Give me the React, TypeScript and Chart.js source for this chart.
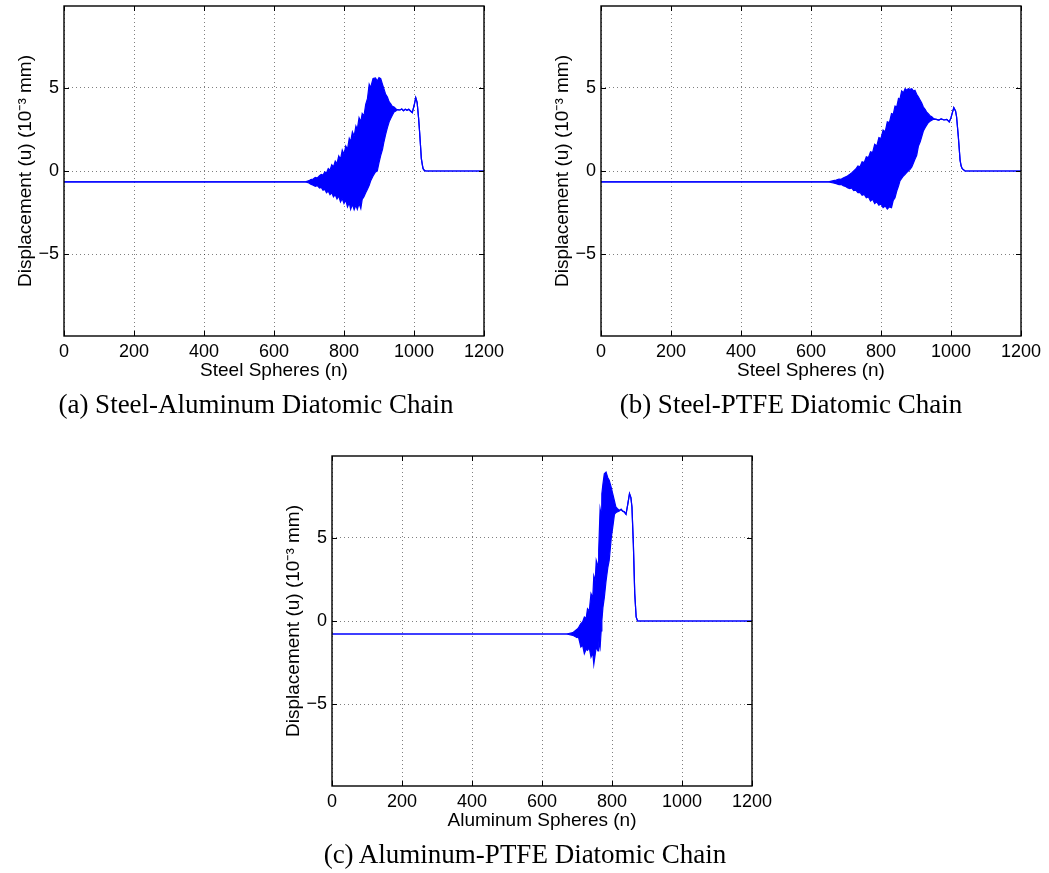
import React, { useEffect, useRef } from 'react';
import { Chart, registerables } from 'chart.js';

Chart.register(...registerables);

// ---- tick labels ----
const xTicks = [0, 200, 400, 600, 800, 1000, 1200];
const yTicks = [-5, 0, 5];
const yLimit = 9.9;

// ---- (a) Steel-Aluminum: sphere index, upper and lower envelope of displacement (10^-3 mm) ----
const nA = [0, 690, 700, 705, 712, 718, 724, 730, 735, 740, 745, 750, 755, 760, 765, 770, 775, 780, 785, 790, 795, 800, 805, 810, 815, 819, 824, 829, 834, 838, 843, 848, 852, 857, 862, 867, 872, 876, 883, 890, 895, 900, 905, 910, 914, 919, 924, 929, 933, 938, 943, 948, 952, 960, 965, 970, 975, 980, 985, 990, 995, 1000, 1005, 1009, 1013, 1016, 1019, 1021, 1024, 1026, 1030, 1035, 1200];
const upperA = [-0.65, -0.65, -0.58, -0.52, -0.48, -0.38, -0.42, -0.28, -0.2, -0.25, -0.05, -0.12, 0.15, 0.05, 0.38, 0.25, 0.6, 0.45, 0.9, 0.7, 1.25, 1.0, 1.5, 1.3, 1.95, 1.75, 2.35, 2.1, 2.7, 2.5, 3.2, 2.95, 3.45, 3.3, 4.0, 4.34, 5.2, 5.0, 5.55, 5.58, 5.4, 5.6, 5.54, 5.2, 4.94, 4.6, 4.44, 4.15, 4.04, 3.88, 3.84, 3.74, 3.68, 3.66, 3.72, 3.62, 3.7, 3.64, 3.7, 3.6, 3.5, 3.9, 4.4, 4.1, 3.2, 2.34, 1.4, 0.74, 0.35, 0.14, 0.02, 0, 0];
const lowerA = [-0.65, -0.65, -0.72, -0.8, -0.85, -0.92, -0.88, -1.02, -0.98, -1.15, -1.1, -1.3, -1.2, -1.42, -1.3, -1.55, -1.42, -1.68, -1.5, -1.85, -1.65, -1.95, -1.75, -2.15, -1.9, -2.3, -2.0, -2.32, -2.05, -2.3, -1.95, -2.25, -1.7, -1.55, -1.3, -1.1, -0.85, -0.6, -0.3, -0.05, 0.0, 0.5, 0.94, 1.3, 1.74, 2.2, 2.6, 2.95, 3.14, 3.35, 3.54, 3.6, 3.68, 3.66, 3.72, 3.62, 3.7, 3.64, 3.7, 3.6, 3.5, 3.9, 4.4, 4.1, 3.2, 2.34, 1.4, 0.74, 0.35, 0.14, 0.02, 0, 0];

// ---- (b) Steel-PTFE ----
const nB = [0, 650, 664, 672, 680, 686, 692, 698, 704, 711, 716, 722, 728, 734, 740, 746, 752, 758, 764, 770, 776, 782, 788, 794, 800, 806, 812, 818, 824, 830, 835, 840, 845, 850, 854, 859, 864, 869, 873, 878, 883, 888, 893, 897, 902, 907, 912, 916, 921, 926, 930, 935, 940, 945, 950, 958, 965, 972, 980, 988, 995, 1000, 1008, 1013, 1016, 1021, 1026, 1029, 1032, 1040, 1200];
const upperB = [-0.65, -0.65, -0.58, -0.55, -0.48, -0.5, -0.42, -0.36, -0.3, -0.2, -0.12, 0.0, 0.12, 0.3, 0.25, 0.55, 0.5, 0.85, 0.8, 1.15, 1.1, 1.6, 1.5, 2.0, 1.95, 2.45, 2.35, 2.95, 2.9, 3.45, 3.4, 3.9, 3.85, 4.35, 4.3, 4.8, 4.7, 4.94, 4.85, 4.94, 4.9, 4.94, 4.8, 4.84, 4.6, 4.44, 4.25, 4.1, 3.84, 3.7, 3.55, 3.44, 3.32, 3.25, 3.15, 3.1, 3.05, 3.12, 3.06, 3.1, 2.94, 3.2, 3.8, 3.6, 3.24, 2.04, 0.64, 0.3, 0.14, 0, 0];
const lowerB = [-0.65, -0.65, -0.72, -0.76, -0.82, -0.8, -0.88, -0.92, -1.0, -1.06, -1.02, -1.18, -1.15, -1.3, -1.28, -1.45, -1.4, -1.6, -1.55, -1.8, -1.7, -1.95, -1.85, -2.05, -1.98, -2.2, -2.1, -2.28, -2.15, -2.2, -1.76, -1.6, -1.2, -0.9, -0.6, -0.45, -0.3, -0.2, -0.1, 0.0, 0.1, 0.24, 0.5, 0.7, 0.94, 1.5, 1.75, 2.04, 2.4, 2.6, 2.74, 2.9, 2.98, 3.04, 3.1, 3.1, 3.05, 3.12, 3.06, 3.1, 2.94, 3.2, 3.8, 3.6, 3.24, 2.04, 0.64, 0.3, 0.14, 0, 0];

// ---- (c) Aluminum-PTFE ----
const nC = [0, 670, 688, 700, 704, 707, 711, 716, 721, 726, 730, 735, 740, 745, 748, 752, 755, 760, 762, 766, 769, 771, 774, 778, 783, 788, 792, 798, 802, 807, 811, 815, 821, 826, 830, 835, 840, 845, 850, 854, 857, 861, 865, 869, 873, 1200];
const upperC = [-0.78, -0.78, -0.7, -0.5, -0.42, -0.3, -0.16, -0.05, 0.24, 0.15, 0.74, 0.6, 1.64, 1.4, 2.7, 2.4, 3.64, 3.3, 4.24, 6.74, 6.4, 7.64, 8.2, 8.84, 8.94, 8.6, 8.44, 8.0, 7.64, 7.2, 6.84, 6.75, 6.64, 6.7, 6.6, 6.55, 6.4, 7.0, 7.64, 7.4, 6.84, 4.64, 1.64, 0.24, 0, 0];
const lowerC = [-0.78, -0.78, -0.86, -1.0, -0.95, -1.2, -1.56, -1.45, -1.96, -1.7, -1.76, -1.6, -2.16, -1.9, -2.6, -2.0, -1.56, -1.8, -1.2, -1.6, -0.6, 0.0, 0.8, 1.4, 2.4, 3.2, 3.64, 5.0, 5.6, 6.4, 6.5, 6.55, 6.6, 6.7, 6.6, 6.55, 6.4, 7.0, 7.64, 7.4, 6.84, 4.64, 1.64, 0.24, 0, 0];

const BLUE = '#0000ff';
const SANS = '"Liberation Sans", Arial, Helvetica, sans-serif';
const CW = 508;
const CH = 424;

const framePlugin = {
  id: 'matlabFrame',
  afterDraw(chart: any) {
    const { ctx, chartArea: a, scales } = chart;
    ctx.save();
    ctx.strokeStyle = '#000';
    ctx.lineWidth = 1;
    const L = 5;
    ctx.beginPath();
    for (const v of xTicks) {
      const px = Math.round(scales.x.getPixelForValue(v)) + 0.5;
      ctx.moveTo(px, a.bottom);
      ctx.lineTo(px, a.bottom - L);
      ctx.moveTo(px, a.top);
      ctx.lineTo(px, a.top + L);
    }
    for (const v of yTicks) {
      const py = Math.round(scales.y.getPixelForValue(v)) + 0.5;
      ctx.moveTo(a.left, py);
      ctx.lineTo(a.left + L, py);
      ctx.moveTo(a.right, py);
      ctx.lineTo(a.right - L, py);
    }
    ctx.stroke();
    ctx.lineWidth = 1.4;
    ctx.strokeRect(a.left, a.top, a.right - a.left, a.bottom - a.top);
    ctx.restore();
  },
};

function Panel(props: { left: number; top: number; n: number[]; upper: number[]; lower: number[]; xTitle: string }) {
  const ref = useRef<HTMLCanvasElement>(null);
  useEffect(() => {
    const { n, upper, lower, xTitle } = props;
    const chart = new Chart(ref.current as HTMLCanvasElement, {
      type: 'line',
      data: {
        datasets: [
          {
            data: n.map((x, i) => ({ x, y: upper[i] })),
            borderColor: BLUE,
            borderWidth: 1.2,
            pointRadius: 0,
            fill: false,
            tension: 0,
          },
          {
            data: n.map((x, i) => ({ x, y: lower[i] })),
            borderColor: BLUE,
            borderWidth: 1.2,
            backgroundColor: BLUE,
            pointRadius: 0,
            fill: '-1',
            tension: 0,
          },
        ],
      },
      options: {
        responsive: false,
        animation: false,
        events: [],
        layout: { padding: { left: 0, top: 20, right: 24, bottom: 0 } },
        plugins: { legend: { display: false }, tooltip: { enabled: false } },
        scales: {
          x: {
            type: 'linear',
            min: 0,
            max: 1200,
            afterBuildTicks: (s: any) => { s.ticks = xTicks.map((v) => ({ value: v })); },
            afterFit: (s: any) => { s.height = 74; s.paddingLeft = 0; s.paddingRight = 0; },
            grid: { color: 'rgba(0,0,0,0.5)', lineWidth: 1, drawTicks: false },
            border: { display: false, dash: [1, 3] },
            ticks: {
              color: '#000',
              padding: 5,
              maxRotation: 0,
              autoSkip: false,
              font: { family: SANS, size: 18 },
              callback: (v: any) => String(v),
            },
            title: { display: true, text: xTitle, color: '#000', font: { family: SANS, size: 19 }, padding: { top: 0, bottom: 28 } },
          },
          y: {
            type: 'linear',
            min: -yLimit,
            max: yLimit,
            afterBuildTicks: (s: any) => { s.ticks = yTicks.map((v) => ({ value: v })); },
            afterFit: (s: any) => { s.width = 64; s.paddingTop = 0; s.paddingBottom = 0; },
            grid: { color: 'rgba(0,0,0,0.5)', lineWidth: 1, drawTicks: false },
            border: { display: false, dash: [1, 3] },
            ticks: {
              color: '#000',
              padding: 5,
              font: { family: SANS, size: 18 },
              callback: (v: any) => (v < 0 ? '\u2212' + Math.abs(v) : String(v)),
            },
            title: { display: true, text: 'Displacement (u) (10\u207B\u00B3 mm)', color: '#000', font: { family: SANS, size: 19 }, padding: { top: 14, bottom: 0 } },
          },
        },
      },
      plugins: [framePlugin],
    } as any);
    return () => chart.destroy();
  }, []);
  return (
    <canvas
      ref={ref}
      width={CW}
      height={CH}
      style={{ position: 'absolute', left: props.left, top: props.top, width: CW, height: CH }}
    />
  );
}

function Caption(props: { cx: number; top: number; text: string }) {
  return (
    <div
      style={{
        position: 'absolute',
        left: props.cx - 300,
        top: props.top,
        width: 600,
        textAlign: 'center',
        fontFamily: '"Liberation Serif", "Times New Roman", serif',
        fontSize: 27,
        lineHeight: '27px',
        color: '#000',
        whiteSpace: 'nowrap',
      }}
    >
      {props.text}
    </div>
  );
}

export default function App() {
  return (
    <div style={{ position: 'absolute', left: 0, top: 0, width: 1049, height: 873, overflow: 'hidden', background: '#fff' }}>
      <Panel left={0} top={-14} n={nA} upper={upperA} lower={lowerA} xTitle="Steel Spheres (n)" />
      <Panel left={537} top={-14} n={nB} upper={upperB} lower={lowerB} xTitle="Steel Spheres (n)" />
      <Panel left={268} top={436} n={nC} upper={upperC} lower={lowerC} xTitle="Aluminum Spheres (n)" />
      <Caption cx={256} top={391} text="(a) Steel-Aluminum Diatomic Chain" />
      <Caption cx={791} top={391} text="(b) Steel-PTFE Diatomic Chain" />
      <Caption cx={525} top={841} text="(c) Aluminum-PTFE Diatomic Chain" />
    </div>
  );
}
